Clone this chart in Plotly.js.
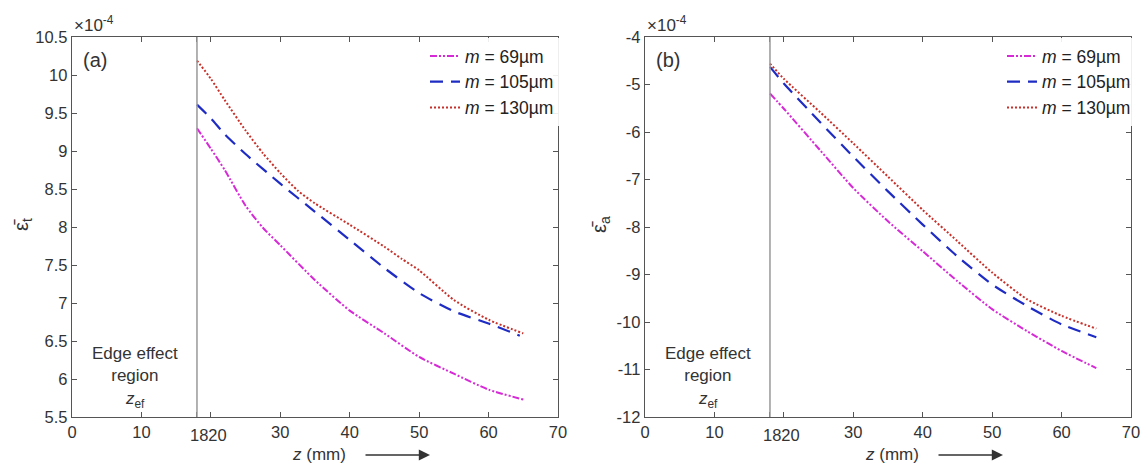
<!DOCTYPE html>
<html>
<head>
<meta charset="utf-8">
<script src="https://cdn.plot.ly/plotly-3.0.1.min.js"></script>
<style>html,body{margin:0;padding:0;background:#fff;}#chart{width:1148px;height:467px;}</style>
</head>
<body>
<div id="chart"></div>
<script>
// ---- data (values in units of 1e-4) ----
const seriesNames = ["<i>m</i> = 69µm", "<i>m</i> = 105µm", "<i>m</i> = 130µm"];

// Panel (a): tangential strain
const zA69  = [18, 20, 22, 25, 27.5, 30, 35, 40, 45, 50, 55, 60, 65];
const eA69  = [9.30, 9.03, 8.75, 8.28, 7.99, 7.76, 7.30, 6.90, 6.60, 6.29, 6.07, 5.86, 5.73];
const zA105 = [18, 20, 22, 25, 30, 35, 40, 45, 50, 55, 60, 64.5];
const eA105 = [9.61, 9.43, 9.22, 8.96, 8.57, 8.20, 7.83, 7.46, 7.13, 6.89, 6.73, 6.57];
const zA130 = [18, 20, 22, 25, 27.5, 30, 32.5, 35, 40, 45, 47.5, 50, 55, 60, 65];
const eA130 = [10.19, 9.95, 9.67, 9.27, 8.97, 8.71, 8.48, 8.31, 8.03, 7.74, 7.58, 7.43, 7.04, 6.78, 6.60];

// Panel (b): axial strain
const zB69  = [18, 20, 25.2, 30, 35, 40, 45, 50, 55, 60, 65];
const eB69  = [-5.19, -5.51, -6.38, -7.18, -7.88, -8.51, -9.14, -9.73, -10.19, -10.61, -10.97];
const zB105 = [18, 20, 25.2, 30, 35, 40, 45, 50, 55, 60, 65];
const eB105 = [-4.63, -4.98, -5.79, -6.52, -7.25, -7.95, -8.62, -9.21, -9.66, -10.05, -10.32];
const zB130 = [18, 20, 25.2, 30, 35, 40, 45, 50, 55, 60, 65];
const eB130 = [-4.56, -4.88, -5.58, -6.24, -6.94, -7.64, -8.30, -8.96, -9.52, -9.87, -10.14];

const xTicks = [0, 10, 18, 20, 30, 40, 50, 60, 70];
const xTicksTxt = ["0", "10", "", "", "30", "40", "50", "60", "70"];
const xPairLabel = "1820";
const yTicksA = [5.5, 6, 6.5, 7, 7.5, 8, 8.5, 9, 9.5, 10, 10.5];
const yTicksATxt = ["5.5", "6", "6.5", "7", "7.5", "8", "8.5", "9", "9.5", "10", "10.5"];
const yTicksB = [-12, -11, -10, -9, -8, -7, -6, -5, -4];
const yTicksBTxt = ["-12", "-11", "-10", "-9", "-8", "-7", "-6", "-5", "-4"];
const zEdge = 18;

// ---- styling ----
const W = 1148, H = 467;
const px = x => x / W;
const py = y => 1 - y / H;
const styles = [
  {color: "#d62ad6", dash: "7px,2px,2px,2px,2px,2px", width: 2},
  {color: "#1f2cc4", dash: "13px,8px", width: 2.2},
  {color: "#c8302a", dash: "2px,2px", width: 2}
];
const FAM = "Liberation Sans, Arial, sans-serif";
const font = {family: FAM, size: 16.5, color: "#333"};
const f = s => ({family: FAM, size: s, color: "#333"});

function mk(x, y, i, xa, ya, leg) {
  return {x: x, y: y, type: "scatter", mode: "lines", name: seriesNames[i],
    xaxis: xa, yaxis: ya, legend: leg, line: Object.assign({shape: "spline", smoothing: 0.6}, styles[i])};
}
const data = [
  mk(zA69, eA69, 0, "x", "y", "legend"),
  mk(zA105, eA105, 1, "x", "y", "legend"),
  mk(zA130, eA130, 2, "x", "y", "legend"),
  mk(zB69, eB69, 0, "x2", "y2", "legend2"),
  mk(zB105, eB105, 1, "x2", "y2", "legend2"),
  mk(zB130, eB130, 2, "x2", "y2", "legend2")
];

const axBase = {showgrid: false, zeroline: false, showline: true, linecolor: "#555", linewidth: 1.3,
  mirror: "ticks", ticks: "inside", ticklen: 5, tickcolor: "#555", tickwidth: 1, tickfont: font, tickangle: 0};

const yTop = 37, yBot = 417;
const legFont = {family: FAM, size: 17.5, color: "#222"};
const layout = {
  width: W, height: H, margin: {l: 0, r: 0, t: 0, b: 0},
  paper_bgcolor: "#fff", plot_bgcolor: "#fff", font: font, showlegend: true,
  xaxis: Object.assign({}, axBase, {domain: [px(72), px(558)], range: [0, 70], tickvals: xTicks, ticktext: xTicksTxt, anchor: "y"}),
  yaxis: Object.assign({}, axBase, {domain: [py(yBot), py(yTop)], range: [5.5, 10.5], tickvals: yTicksA, ticktext: yTicksATxt, anchor: "x"}),
  xaxis2: Object.assign({}, axBase, {domain: [px(645), px(1131)], range: [0, 70], tickvals: xTicks, ticktext: xTicksTxt, anchor: "y2"}),
  yaxis2: Object.assign({}, axBase, {domain: [py(yBot), py(yTop)], range: [-12, -4], tickvals: yTicksB, ticktext: yTicksBTxt, anchor: "x2"}),
  legend: {x: px(559), y: py(38), xanchor: "right", yanchor: "top", bgcolor: "rgba(255,255,255,0.9)",
    font: legFont, tracegroupgap: 0, itemwidth: 30},
  legend2: {x: px(1136), y: py(38), xanchor: "right", yanchor: "top", bgcolor: "rgba(255,255,255,0.9)",
    font: legFont, tracegroupgap: 0, itemwidth: 30},
  shapes: [
    {type: "line", xref: "x", yref: "y domain", x0: zEdge, x1: zEdge, y0: 0, y1: 1, line: {color: "#999", width: 1.5}},
    {type: "line", xref: "x2", yref: "y2 domain", x0: zEdge, x1: zEdge, y0: 0, y1: 1, line: {color: "#999", width: 1.5}}
  ],
  annotations: []
};

const ann = layout.annotations;
function txt(text, x, y, opts) {
  ann.push(Object.assign({text: text, xref: "paper", yref: "paper", x: px(x), y: py(y),
    showarrow: false, xanchor: "center", yanchor: "middle", font: font}, opts || {}));
}
[[0, 72, "x"], [1, 645, "x2"]].forEach(([i, left, xa]) => {
  const label = i === 0 ? "(a)" : "(b)";
  txt("×10<sup>-4</sup>", left, 24, {xanchor: "left", font: f(17)});
  txt(label, left + 9, 60, {xanchor: "left", font: f(20)});
  txt("Edge effect<br>region", left + 63, 364, {font: f(17)});
  txt("<i>z</i><sub>ef</sub>", left + 63, 400, {font: f(17)});
  txt("<i>z</i> (mm)", left + 247, 454, {font: f(17)});
  txt(i === 0 ? "ε̄<sub>t</sub>" : "ε̄<sub>a</sub>", left - (i === 0 ? 50 : 45), 225, {textangle: -90, font: f(20)});
  ann.push({text: xPairLabel, xref: xa, yref: "paper", x: 19.6, y: py(435), showarrow: false,
    xanchor: "center", yanchor: "middle", font: font});
  ann.push({xref: "paper", yref: "paper", x: px(left + 358), y: py(455), ax: -66, ay: 0, axref: "pixel", ayref: "pixel",
    text: "", showarrow: true, arrowhead: 2, arrowsize: 1.4, arrowwidth: 1.6, arrowcolor: "#333"});
});

Plotly.newPlot("chart", data, layout, {displayModeBar: false, staticPlot: true});
</script>
</body>
</html>
